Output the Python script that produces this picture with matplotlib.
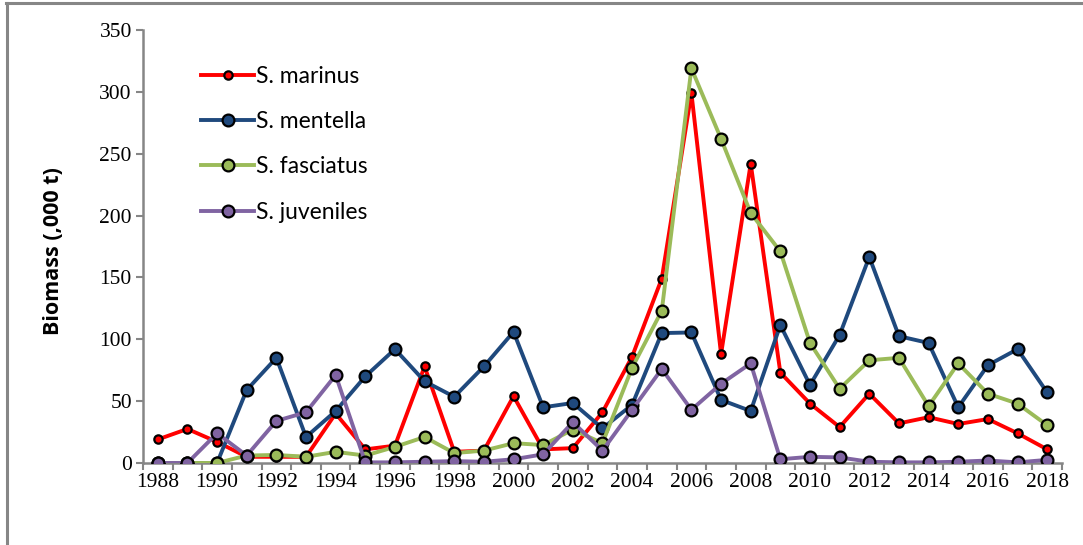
import matplotlib
matplotlib.use('Agg')
from matplotlib import pyplot as plt
from matplotlib.lines import Line2D

years = list(range(1988, 2019))
marinus = [19, 27.5, 17, 5, 5, 5, 40, 11, 14, 78, 9, 10, 54, 11, 12, 41,
           86, 149, 299, 88, 242, 73, 48, 29, 56, 32, 37, 31.5, 35.5, 24, 11]
mentella = [0, 0, 0, 59, 85, 21, 42, 70, 92, 66, 53.5, 78, 106, 45, 48.5, 28,
            47, 105, 105.5, 51, 42, 111.5, 63, 103.5, 166.5, 102.5, 97, 45, 79, 92, 57]
fasciatus = [0, 0, 0, 6, 6.5, 5, 9, 6, 13, 21, 8, 10, 16, 14.5, 27, 16,
             77, 123, 319, 262, 202, 171, 97, 60, 83, 85, 46, 80.5, 56, 48, 30.5]
juveniles = [0, 0, 24, 6, 34, 41, 71, 0.5, 0.5, 1, 1.5, 1, 3, 7, 33, 10,
             43, 76, 43, 64, 80.5, 3, 5, 4.5, 1, 0.5, 0.5, 1, 2, 0.5, 2.5]
labels = ['S. marinus', 'S. mentella', 'S. fasciatus', 'S. juveniles']
colors = ['#FF0000', '#1F497D', '#9BBB59', '#8064A2']

fig = plt.figure(figsize=(10.83, 5.45), dpi=100)
ax = fig.add_axes([0.132, 0.1505, 0.8486, 0.7945])

for i, (vals, lab, c) in enumerate(zip([marinus, mentella, fasciatus, juveniles], labels, colors)):
    ms = 6 if i == 0 else 8.5
    ax.plot(years, vals, color=c, lw=2.8, marker='o', ms=ms, mfc=c,
            mec='black', mew=1.6, label=lab, zorder=3 + i)

ax.set_xlim(1987.5, 2018.5)
ax.set_ylim(0, 350)
ax.set_yticks(range(0, 351, 50))
ax.set_xticks(years[::2])
ax.set_xticks([y + 0.5 for y in range(1987, 2019)], minor=True)
ax.tick_params(axis='x', which='major', length=0, pad=7, labelsize=15.5)
ax.tick_params(axis='x', which='minor', length=5, width=1.5, color='#868686')
ax.tick_params(axis='y', length=5, width=1.5, color='#868686', pad=3, labelsize=15.5)
for t in ax.get_xticklabels() + ax.get_yticklabels():
    t.set_fontfamily('Liberation Serif')
for s in ('top', 'right'):
    ax.spines[s].set_visible(False)
for s in ('left', 'bottom'):
    ax.spines[s].set_color('#868686')
    ax.spines[s].set_linewidth(1.8)
ax.spines['bottom'].set_zorder(2)

ax.set_ylabel('Biomass (,000 t)', fontfamily='Open Sans', fontweight='bold',
              fontsize=15.5)
ax.yaxis.set_label_coords(-0.086, 0.49)

leg = ax.legend(loc='upper left', bbox_to_anchor=(0.041, 0.965), frameon=False,
                prop={'family': 'Lato', 'size': 16.5}, labelspacing=1.06,
                handlelength=2.3, handletextpad=0.1)

# outer chart frame (top and left edges)
fig.add_artist(Line2D([0.006, 1.0], [0.995, 0.995], color='#868686', lw=2.2))
fig.add_artist(Line2D([0.0065, 0.0065], [0.0, 0.995], color='#868686', lw=2.2))

fig.savefig('out.png', dpi=100)
